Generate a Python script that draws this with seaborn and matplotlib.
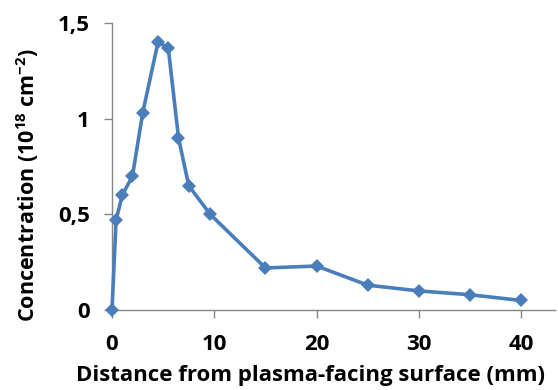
"""
Concentration profile vs distance from the plasma-facing surface.
Writes out.png (558x390).
"""
import matplotlib
matplotlib.use("Agg")
import matplotlib.pyplot as plt
import pandas as pd
import seaborn as sns

# ---------------------------------------------------------------------------
# Data
# ---------------------------------------------------------------------------
distance_mm = [0, 0.4, 1, 2, 3, 4.5, 5.5, 6.5, 7.5, 9.6, 15, 20, 25, 30, 35, 40]
concentration = [0.0, 0.47, 0.60, 0.70, 1.03, 1.40, 1.37, 0.90, 0.65, 0.50,
                 0.22, 0.23, 0.13, 0.10, 0.08, 0.05]

x_ticks = [0, 10, 20, 30, 40]
y_ticks = [0, 0.5, 1, 1.5]
y_tick_labels = ["0", "0,5", "1", "1,5"]

LINE_COLOR = "#4A7EBB"
AXIS_COLOR = "#868686"
FONT_SIZE = 16

sns.set_theme(style="white")
plt.rcParams["font.family"] = ["Open Sans", "DejaVu Sans"]
plt.rcParams["font.weight"] = "bold"
plt.rcParams["mathtext.fontset"] = "custom"
plt.rcParams["mathtext.rm"] = "Open Sans:bold"
plt.rcParams["mathtext.bf"] = "Open Sans:bold"

df = pd.DataFrame({"distance": distance_mm, "conc": concentration})

fig = plt.figure(figsize=(5.58, 3.90), dpi=100)
ax = fig.add_axes([0.2007, 0.205, 0.794, 0.736])

sns.lineplot(
    data=df, x="distance", y="conc", ax=ax,
    color=LINE_COLOR, linewidth=2.6,
    marker="D", markersize=7, markeredgewidth=0,
    clip_on=False, zorder=3,
)

ax.set_xlim(0, 43.3)
ax.set_ylim(0, 1.5)
ax.set_xticks(x_ticks)
ax.set_xticklabels([str(t) for t in x_ticks])
ax.set_yticks(y_ticks)
ax.set_yticklabels(y_tick_labels)

for side in ("top", "right"):
    ax.spines[side].set_visible(False)
for side in ("left", "bottom"):
    ax.spines[side].set_color(AXIS_COLOR)
    ax.spines[side].set_linewidth(1.0)

ax.tick_params(axis="both", direction="out", length=6, width=1.0,
               color=AXIS_COLOR, labelsize=FONT_SIZE, labelcolor="black")
ax.tick_params(axis="x", pad=11, bottom=True)
ax.tick_params(axis="y", pad=10, left=True)
for lab in ax.get_xticklabels() + ax.get_yticklabels():
    lab.set_fontweight("bold")

ax.set_xlabel("Distance from plasma-facing surface (mm)",
              fontsize=FONT_SIZE, fontweight="bold", color="black")
ax.set_ylabel(r"Concentration (10$^{18}$ cm$^{-2}$)",
              fontsize=15.5, fontweight="bold", color="black")
ax.xaxis.label.set_va("center")
ax.yaxis.label.set_va("center")
ax.xaxis.set_label_coords(0.449, -0.228)
ax.yaxis.set_label_coords(-0.19, 0.435)

fig.savefig("out.png", dpi=100)
